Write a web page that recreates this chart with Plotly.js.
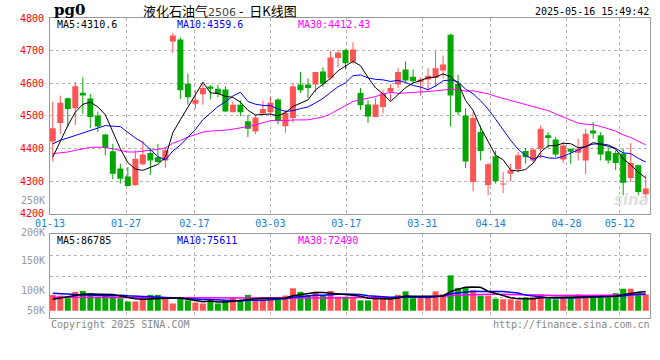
<!DOCTYPE html>
<html><head><meta charset="utf-8">
<script src="https://cdn.plot.ly/plotly-3.0.1.min.js"></script>
<style>html,body{margin:0;padding:0;background:#fff}#chart{width:660px;height:360px}</style>
</head><body><div id="chart"></div>
<script>
const dates = ['01-13','01-14','01-15','01-16','01-17','01-20','01-21','01-22','01-23','01-24','01-27',
'02-05','02-06','02-07','02-10','02-11','02-12','02-13','02-14','02-17','02-18','02-19','02-20','02-21','02-24','02-25','02-26','02-27','02-28',
'03-03','03-04','03-05','03-06','03-07','03-10','03-11','03-12','03-13','03-14','03-17','03-18','03-19','03-20','03-21','03-24','03-25','03-26','03-27','03-28','03-31',
'04-01','04-02','04-03','04-07','04-08','04-09','04-10','04-11','04-14','04-15','04-16','04-17','04-18','04-21','04-22','04-23','04-24','04-25','04-28','04-29','04-30',
'05-06','05-07','05-08','05-09','05-12','05-13','05-14','05-15','05-16'];
const open  = [4421,4478,4554,4523,4571,4553,4501,4443,4391,4338,4314,4287,4351,4386,4373,4363,4728,4734,4598,4537,4566,4590,4583,4581,4511,4534,4483,4452,4507,4511,4550,4468,4493,4596,4596,4596,4636,4615,4677,4702,4666,4570,4535,4496,4527,4574,4596,4642,4620,4603,4611,4616,4639,4749,4598,4501,4297,4450,4287,4376,4289,4322,4336,4392,4363,4399,4440,4427,4366,4399,4387,4363,4455,4440,4391,4386,4384,4309,4348,4259];
const high  = [4543,4562,4556,4603,4618,4567,4513,4445,4414,4353,4343,4394,4424,4401,4414,4404,4754,4740,4629,4578,4598,4595,4595,4590,4544,4547,4503,4503,4547,4559,4554,4519,4600,4634,4615,4634,4648,4699,4702,4705,4726,4585,4547,4554,4580,4598,4646,4667,4642,4618,4646,4698,4685,4752,4626,4523,4511,4470,4355,4394,4328,4353,4389,4401,4401,4470,4450,4435,4419,4399,4430,4460,4481,4450,4404,4394,4399,4416,4350,4317];
const low   = [4360,4445,4465,4472,4506,4462,4450,4379,4305,4292,4283,4285,4348,4319,4356,4340,4693,4552,4534,4521,4534,4550,4557,4511,4511,4499,4435,4444,4501,4501,4474,4448,4479,4570,4554,4572,4588,4611,4649,4642,4659,4518,4478,4496,4508,4547,4585,4603,4598,4562,4578,4588,4615,4467,4503,4340,4268,4363,4256,4292,4263,4299,4326,4353,4358,4370,4401,4373,4356,4353,4363,4320,4430,4363,4353,4333,4256,4297,4256,4248];
const close = [4462,4540,4521,4591,4562,4496,4467,4401,4322,4307,4285,4368,4381,4363,4358,4394,4746,4578,4557,4549,4585,4583,4568,4513,4534,4511,4460,4495,4521,4540,4483,4509,4590,4578,4585,4634,4598,4679,4694,4661,4703,4532,4498,4535,4569,4585,4634,4608,4606,4611,4623,4646,4657,4562,4511,4360,4493,4392,4351,4299,4292,4333,4379,4373,4397,4460,4432,4381,4409,4390,4399,4445,4446,4381,4363,4355,4295,4355,4266,4277];
// volume (lots)
const volume = [72000,69000,57000,86000,90000,80000,64000,69000,64000,57000,42000,42000,57000,72000,72000,57000,33000,55000,47000,37000,33000,47000,33000,47000,58000,47000,72000,50000,57000,55000,58000,69000,102000,86000,69000,86000,69000,90000,64000,64000,64000,47000,47000,58000,57000,57000,72000,88000,57000,57000,58000,88000,75000,161000,104000,108000,92000,69000,69000,55000,52000,52000,47000,61000,61000,74000,55000,52000,58000,61000,74000,64000,64000,61000,61000,80000,100000,100000,80000,74000];
// moving-average values before enough history exists
const ma5Head  = [4373,4424,4470,4511];
const ma10Head = [4414,4425,4432,4440,4447,4455,4464,4470,4468];
const ma30Head = [4384,4386,4389,4394,4399,4403,4404,4403,4399,4394,4389,4389,4391,4394,4397,4401,4416,4424,4435,4442,4450,4453,4454,4456,4459,4462,4467,4472,4478];
const vma5Head  = [52000,58000,66000,72000];
const vma10Head = [80000,79000,76000,74000,72000,70000,70000,69000,68000];
const vma30Head = [61000,61000,61000,61000,61000,61000,61000,61000,61000,61000,61000,60000,60000,60000,60000,59000,59000,59000,59000,58000,58000,58000,58000,58000,58000,58000,58000,58000,58000];
const tickDates = ['01-13','01-27','02-17','03-03','03-17','03-31','04-14','04-28','05-12'];
const priceTicks = [4200,4300,4400,4500,4600,4700,4800];
const maText  = ['MA5:4310.6','MA10:4359.6','MA30:4412.43'];
const vmaText = ['MA5:86785','MA10:75611','MA30:72490'];
const volLabels = ['250K','200K','150K','100K','50K'];

function movAvg(arr, n, head){
  return arr.map((v,i)=>{
    if (i < n-1) return head[i];
    let s=0; for(let k=i-n+1;k<=i;k++) s+=arr[k]; return s/n;
  });
}
const idx = dates.map((d,i)=>i);
const RED='#ff5555', GREEN='#00a800';
const up = close.map((c,i)=>c>=open[i]);
const col = up.map(u=>u?RED:GREEN);

function wicks(isUp){
  const x=[],y=[];
  idx.forEach(i=>{ if(up[i]===isUp){ x.push(i,i,null); y.push(low[i],high[i],null);} });
  return {x,y};
}
const wu=wicks(true), wd=wicks(false);
const MONO='DejaVu Sans Mono, Liberation Mono, monospace';

const traces = [
 {type:'scatter',mode:'lines',x:wu.x,y:wu.y,line:{color:RED,width:1},xaxis:'x',yaxis:'y',hoverinfo:'skip'},
 {type:'scatter',mode:'lines',x:wd.x,y:wd.y,line:{color:GREEN,width:1},xaxis:'x',yaxis:'y',hoverinfo:'skip'},
 {type:'bar',x:idx,base:idx.map(i=>Math.min(open[i],close[i])),
  y:idx.map(i=>Math.max(Math.abs(close[i]-open[i]),2)),width:0.8,
  marker:{color:col,line:{width:0}},xaxis:'x',yaxis:'y'},
 {type:'scatter',mode:'lines',x:idx,y:movAvg(close,30,ma30Head),line:{color:'#ff00ff',width:1},xaxis:'x',yaxis:'y'},
 {type:'scatter',mode:'lines',x:idx,y:movAvg(close,10,ma10Head),line:{color:'#0000ff',width:1},xaxis:'x',yaxis:'y'},
 {type:'scatter',mode:'lines',x:idx,y:movAvg(close,5,ma5Head),line:{color:'#000000',width:1},xaxis:'x',yaxis:'y'},
 {type:'bar',x:idx,y:volume,width:0.8,marker:{color:col,line:{width:0}},xaxis:'x2',yaxis:'y2'},
 {type:'scatter',mode:'lines',x:idx,y:movAvg(volume,30,vma30Head),line:{color:'#ff00ff',width:1.5},xaxis:'x2',yaxis:'y2'},
 {type:'scatter',mode:'lines',x:idx,y:movAvg(volume,10,vma10Head),line:{color:'#0000ff',width:1.5},xaxis:'x2',yaxis:'y2'},
 {type:'scatter',mode:'lines',x:idx,y:movAvg(volume,5,vma5Head),line:{color:'#000000',width:1.5},xaxis:'x2',yaxis:'y2'}
];

const tickvals = tickDates.map(d=>dates.indexOf(d)*1.012-0.36);
const xr=[-0.37,79.57];
const vr=[-33000,348600];
const vgrid=[1,2,3].map(k=>vr[0]+k*(vr[1]-vr[0])/4);
const gridStyle={gridcolor:'#b4b4b4',griddash:'dot',gridwidth:1};
const W=600,H=300;
const px=x=>(x-50)/W, py=y=>(318-y)/H;

const ann=[];
ann.push({text:'<b>pg0</b>',x:px(52),y:py(10),font:{family:'DejaVu Serif, serif',size:15,color:'#000'}});
ann.push({text:'液化石油气<span style="color:#444;font-family:DejaVu Sans;font-size:11px">2506</span> -  日K线图',x:px(141),y:py(11),font:{family:'Noto Sans CJK SC',size:13,color:'#000'}});
ann.push({text:'2025-05-16 15:49:42',x:px(651),y:py(12),xanchor:'right',font:{family:MONO,size:10,color:'#000'}});
const maCols=['#000','#0000ff','#ff00ff'], maX=[55,175,296];
maText.forEach((t,i)=>ann.push({text:t,x:px(maX[i]),y:py(24),font:{family:MONO,size:10,color:maCols[i]}}));
vmaText.forEach((t,i)=>ann.push({text:t,x:px(maX[i]),y:py(240),font:{family:MONO,size:10,color:maCols[i]}}));
const volLabY=[200,232,260,290,310];
volLabels.forEach((t,i)=>ann.push({text:t,x:px(47),y:py(volLabY[i]),xanchor:'right',font:{family:MONO,size:10,color:'#999'}}));
ann.push({text:'Copyright 2025 SINA.COM',x:px(49),y:py(324),font:{family:MONO,size:10,color:'#888'}});
ann.push({text:'http://finance.sina.com.cn',x:px(652),y:py(324),xanchor:'right',font:{family:MONO,size:10,color:'#888'}});
ann.push({text:'<i><b>sina</b></i>',x:px(612),y:py(200),font:{family:'DejaVu Sans',size:15,color:'rgba(205,200,200,0.6)'}});
ann.forEach(a=>{a.xref='paper';a.yref='paper';a.showarrow=false;if(!a.xanchor)a.xanchor='left';a.yanchor='middle';});

const layout = {
  width:660,height:360,margin:{l:50,r:10,t:18,b:42},
  paper_bgcolor:'#fff',plot_bgcolor:'#fff',showlegend:false,barmode:'overlay',
  xaxis:Object.assign({domain:[0,1],range:xr,tickmode:'array',tickvals:tickvals,ticktext:tickDates,
    showline:true,mirror:true,linecolor:'#999',linewidth:1,ticks:'',zeroline:false,
    tickfont:{family:MONO,size:10,color:'#1a7fd0'},anchor:'y'},gridStyle),
  yaxis:Object.assign({domain:[py(213.6),1],range:[4200,4800],tickmode:'array',tickvals:priceTicks,
    showline:true,mirror:true,linecolor:'#999',linewidth:1,ticks:'',zeroline:false,ticklabelstandoff:3,
    tickfont:{family:MONO,size:10,color:'#ff0000'},anchor:'x'},gridStyle),
  xaxis2:Object.assign({domain:[0,1],range:xr,tickmode:'array',tickvals:tickvals,showticklabels:false,
    showline:true,mirror:true,linecolor:'#999',linewidth:1,ticks:'',zeroline:false,anchor:'y2'},gridStyle),
  yaxis2:Object.assign({domain:[0,py(234)],range:vr,tickmode:'array',tickvals:vgrid,
    showline:true,mirror:true,linecolor:'#999',linewidth:1,ticks:'',zeroline:false,showticklabels:false,anchor:'x2'},gridStyle),
  annotations:ann
};
Plotly.newPlot('chart',traces,layout,{staticPlot:true,displayModeBar:false});
</script></body></html>
